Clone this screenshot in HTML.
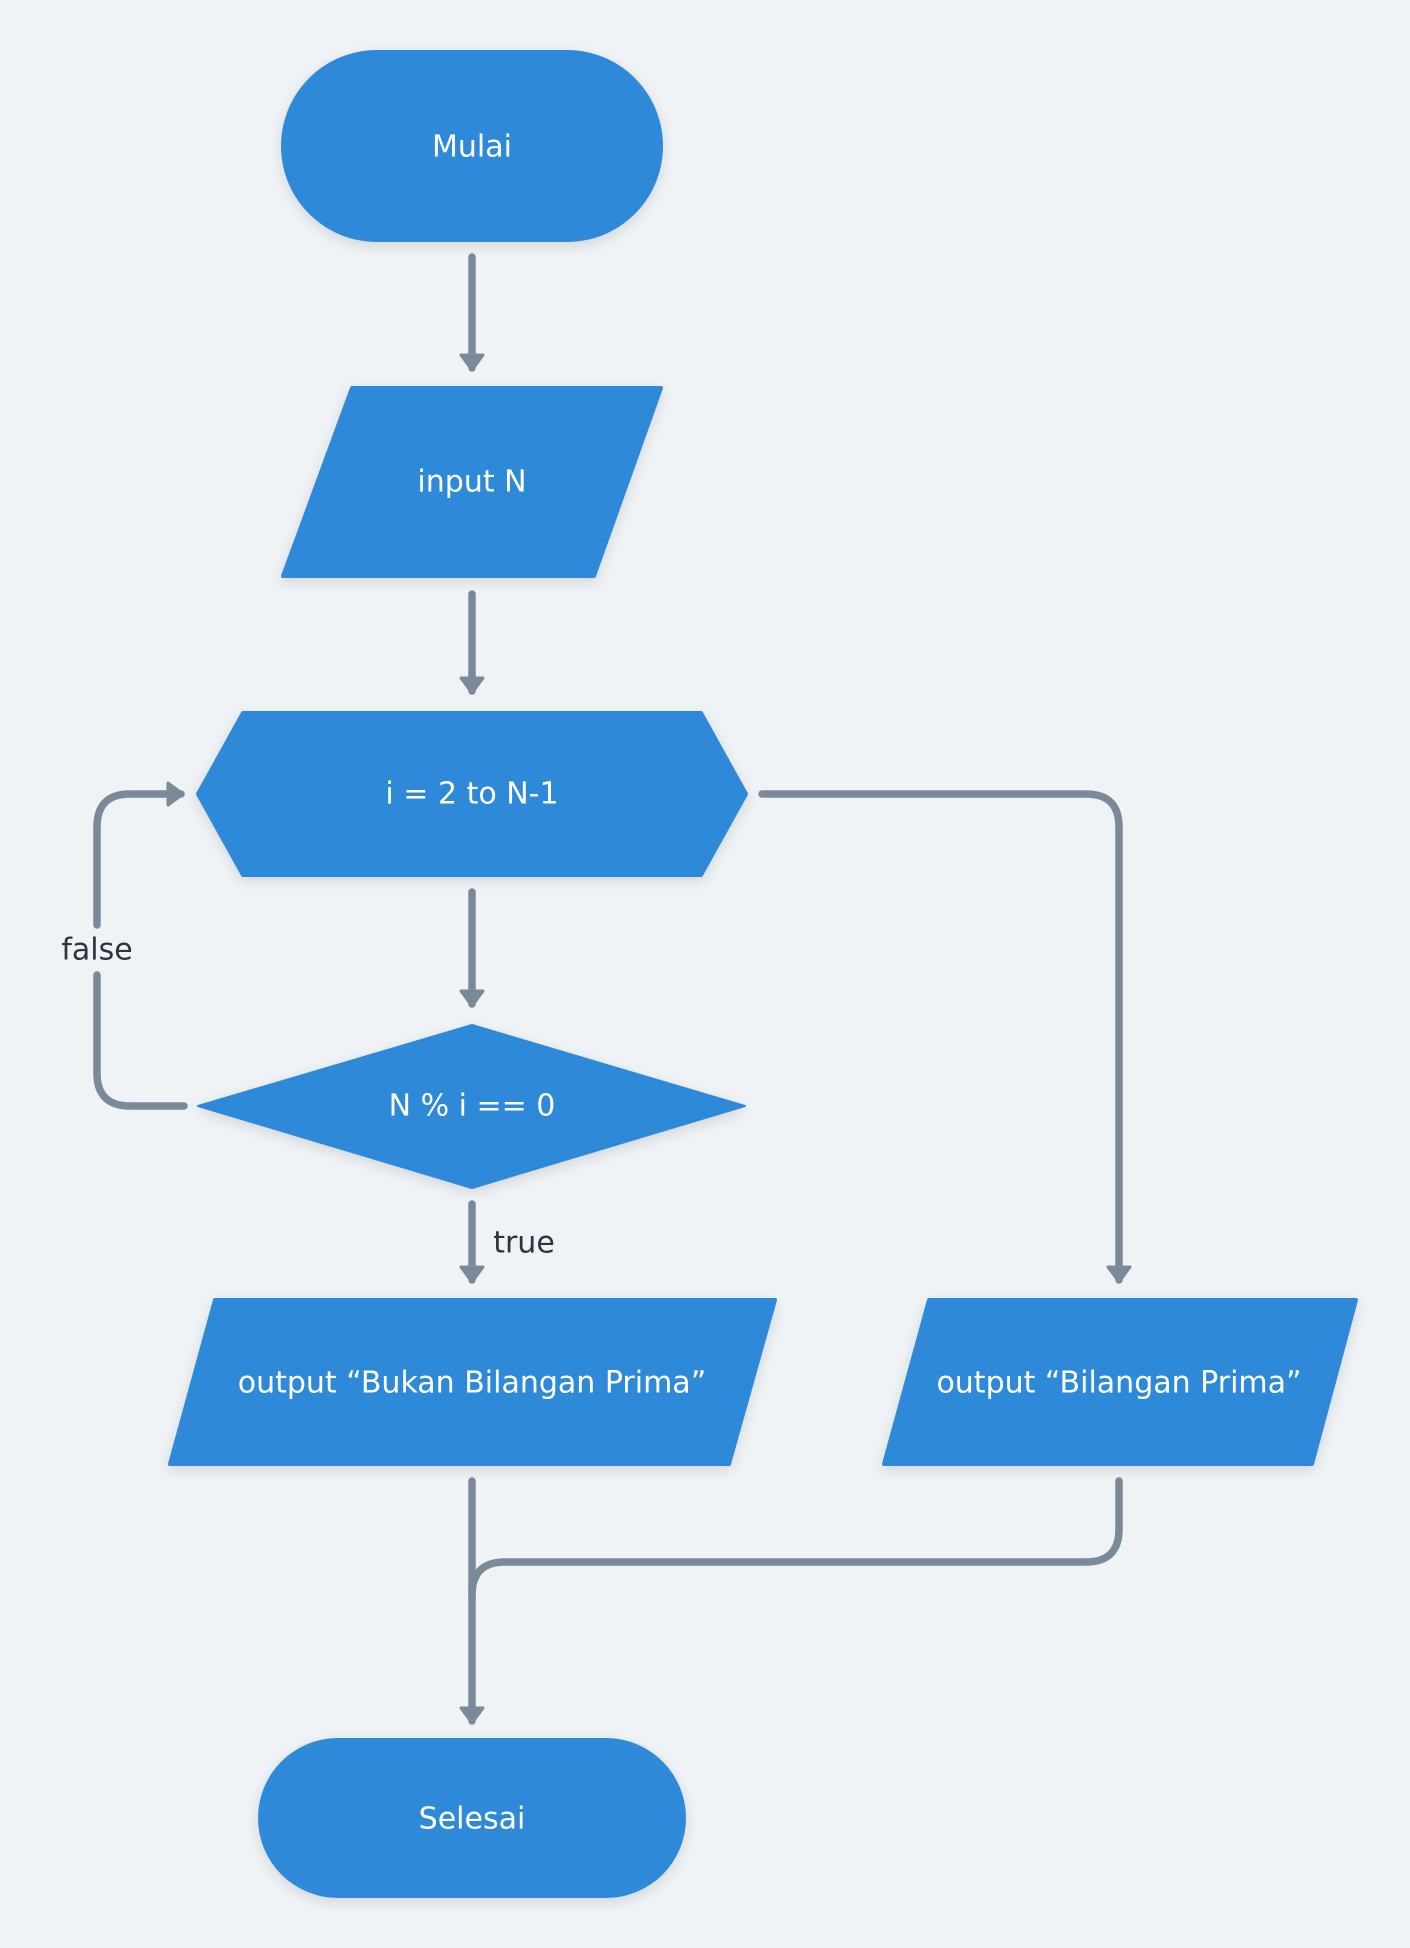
<!DOCTYPE html>
<html><head><meta charset="utf-8"><style>
html,body{margin:0;padding:0;background:#eff3f6;}
svg{display:block;}
text{font-family:"DejaVu Sans","Liberation Sans",sans-serif;font-size:30px;fill:#fff;text-anchor:middle;dominant-baseline:central;}
.l{fill:#2b3440;}
</style></head><body>
<svg width="1410" height="1948" viewBox="0 0 1410 1948" xmlns="http://www.w3.org/2000/svg">
<defs>
<filter id="sh" x="-20%" y="-20%" width="140%" height="150%"><feDropShadow dx="0" dy="4" stdDeviation="6" flood-color="#000" flood-opacity="0.12"/></filter>
<marker id="ar" markerWidth="18" markerHeight="26" refX="15" refY="13" orient="auto" markerUnits="userSpaceOnUse"><path d="M2,2 L17,13 L2,24 Z" fill="#7a8a99" stroke="#7a8a99" stroke-width="3" stroke-linejoin="round"/></marker>
</defs>
<g fill="none" stroke="#7a8a99" stroke-width="7.5" stroke-linecap="round" stroke-linejoin="round">
<path d="M472,257 V368" marker-end="url(#ar)"/>
<path d="M472,594 V691" marker-end="url(#ar)"/>
<path d="M472,892 V1004" marker-end="url(#ar)"/>
<path d="M472,1204 V1280" marker-end="url(#ar)"/>
<path d="M184,1106 H130 Q97,1106 97,1073 V975"/>
<path d="M97,925 V827 Q97,794 130,794 H181" marker-end="url(#ar)"/>
<path d="M762,794 H1086 Q1119,794 1119,827 V1280" marker-end="url(#ar)"/>
<path d="M1119,1481 V1529 Q1119,1562 1086,1562 H505 Q472,1562 472,1595"/>
<path d="M472,1481 V1721" marker-end="url(#ar)"/>
</g>
<g fill="#2d89d9" filter="url(#sh)">
<rect x="281" y="50" width="382" height="192" rx="96"/>
<path d="M352,388 H661 L594,576 H283 Z" stroke="#2d89d9" stroke-width="4" stroke-linejoin="round"/>
<path d="M198,794 L243,713 H701 L746,794 L701,875 H243 Z" stroke="#2d89d9" stroke-width="4" stroke-linejoin="round"/>
<path d="M198,1106 L472,1025 L745,1106 L472,1188 Z" stroke="#2d89d9" stroke-width="2" stroke-linejoin="round"/>
<path d="M215,1300 H775 L729,1464 H170 Z" stroke="#2d89d9" stroke-width="4" stroke-linejoin="round"/>
<path d="M929,1300 H1356 L1312,1464 H884 Z" stroke="#2d89d9" stroke-width="4" stroke-linejoin="round"/>
<rect x="258" y="1738" width="428" height="160" rx="80"/>
</g>
<text x="472" y="147">Mulai</text>
<text x="472" y="482">input N</text>
<text x="472" y="794">i = 2 to N-1</text>
<text x="472" y="1106">N % i == 0</text>
<text x="472" y="1383">output “Bukan Bilangan Prima”</text>
<text x="1119" y="1383">output “Bilangan Prima”</text>
<text x="472" y="1819">Selesai</text>
<text class="l" x="97" y="950">false</text>
<text class="l" x="524" y="1243">true</text>
</svg>
</body></html>
